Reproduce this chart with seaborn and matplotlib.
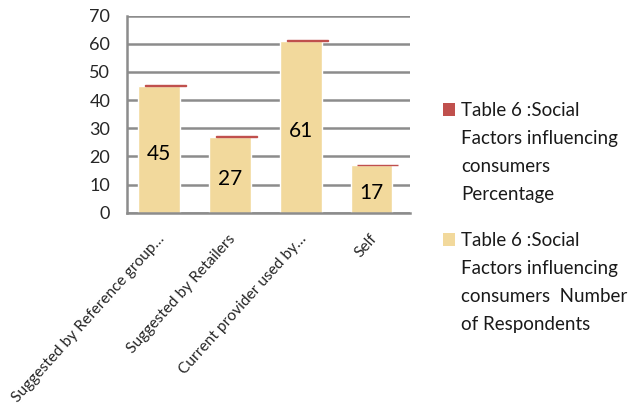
import numpy as np
import matplotlib
matplotlib.use("Agg")
import matplotlib.pyplot as plt
import seaborn as sns
from matplotlib.patches import Rectangle
from matplotlib.transforms import ScaledTranslation

# Survey data: social factors influencing consumers
categories = ["Suggested by Reference group…", "Suggested by Retailers",
              "Current provider used by…", "Self"]
respondents = [45, 27, 61, 17]
percentage = [0.30, 0.18, 0.41, 0.11]
y_ticks = [0, 10, 20, 30, 40, 50, 60, 70]
series_pct = "Table 6 :Social\nFactors influencing\nconsumers\nPercentage"
series_num = "Table 6 :Social\nFactors influencing\nconsumers  Number\nof Respondents"

sns.set_style("white")
plt.rcParams["font.family"] = ["Lato", "DejaVu Sans"]

GRID = "#8c8c8c"
TAN = "#f2d99c"
RED = "#c0504d"
W, H = 644, 419

fig = plt.figure(figsize=(W / 100, H / 100), dpi=100)
ax = fig.add_axes([127 / W, 1 - 212.7 / H, 283 / W, 197 / H])

# Number of respondents (front columns)
sns.barplot(x=categories, y=respondents, color=TAN, width=0.59,
            saturation=1, ax=ax, zorder=2)
for p in ax.patches:
    p.set_x(p.get_x() - 0.043)

# Percentage stacked on top (thin cap)
x = np.arange(len(categories))
ax.bar(x + 0.047, percentage, bottom=respondents, width=0.58,
       color=RED, edgecolor=RED, linewidth=1.0, zorder=3)

# Value labels
for xi, v in zip(x, respondents):
    ax.annotate(str(v), (xi - 0.043, v / 2), xytext=(0, -4.5),
                textcoords="offset pixels", ha="center", va="center",
                fontsize=15, color="black", zorder=4)

ax.set_xlim(-0.5, 3.5)
ax.set_ylim(0, 70)
ax.set_yticks(y_ticks)
ax.set_xticks(x)
ax.set_xticklabels(categories, rotation=48, ha="right",
                   rotation_mode="anchor", fontsize=11.2)
for lbl in ax.get_xticklabels():
    lbl.set_va("center")
    lbl.set_transform(lbl.get_transform() +
                      ScaledTranslation(12 / 100, 0, fig.dpi_scale_trans))
ax.set_xticks([-0.5, 0.5, 1.5, 2.5, 3.5], minor=True)
ax.tick_params(axis="x", which="major", length=0, pad=17)
ax.tick_params(axis="x", which="minor", length=3.6, width=1.8,
               color=GRID, direction="out")
ax.tick_params(axis="y", length=3.6, width=1.8, color=GRID,
               direction="out", pad=8.4, labelsize=13)
ax.set_xlabel("")
ax.set_ylabel("")

ax.yaxis.grid(True, color=GRID, linewidth=1.8)
ax.xaxis.grid(False)
ax.set_axisbelow(True)
for side in ("top", "right"):
    ax.spines[side].set_visible(False)
for side in ("left", "bottom"):
    ax.spines[side].set_color(GRID)
    ax.spines[side].set_linewidth(1.8)

# Legend
for (y0, col, label) in ((103, RED, series_pct), (233, TAN, series_num)):
    fig.patches.append(Rectangle((443 / W, 1 - (y0 + 13) / H), 12 / W, 13 / H,
                                 transform=fig.transFigure, facecolor=col,
                                 edgecolor="none", figure=fig))
    fig.text(461 / W, 1 - (y0 - 1) / H, label, ha="left", va="top",
             fontsize=13.5, linespacing=1.78, color="#1a1a1a")

fig.savefig("out.png", dpi=100)
